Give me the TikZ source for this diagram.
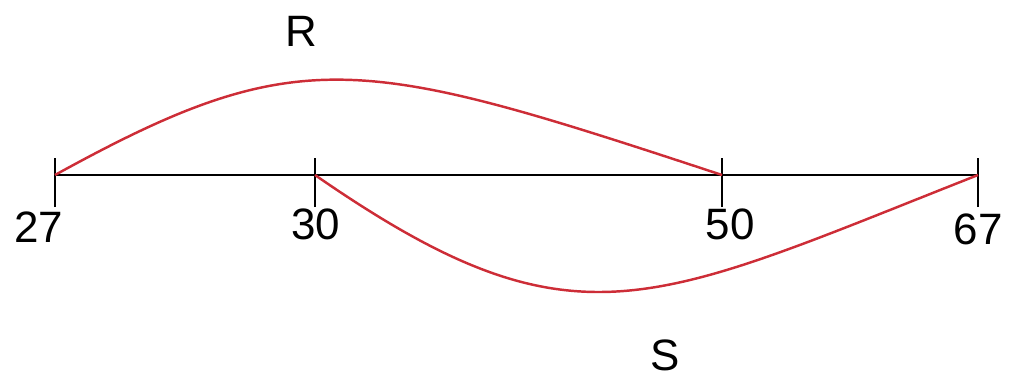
\documentclass[tikz,border=0pt]{standalone}
\usepackage{fontspec}
\setmainfont{Liberation Sans}
\usetikzlibrary{positioning}
\definecolor{arcred}{RGB}{205,45,55}
\tikzset{
  axis/.style  ={draw=black, line width=1.5pt},
  tick/.style  ={draw=black, line width=1.5pt},
  arcline/.style={draw=arcred, line width=1.4pt},
  num/.style   ={font=\fontsize{25}{29}\selectfont, inner sep=0pt},
  setlbl/.style={font=\fontsize{25}{29}\selectfont, inner sep=0pt},
}
\begin{document}
\begin{tikzpicture}[x=0.2mm, y=-0.2mm]
  \useasboundingbox (0,0) rectangle (1009,381);

  % ---- number line ----
  \coordinate (p27) at (55,175);
  \coordinate (p30) at (315,175);
  \coordinate (p50) at (722,175);
  \coordinate (p67) at (978,175);
  \draw[axis] (p27) -- (p67);
  \foreach \p in {p27,p30,p50,p67}
    \draw[tick] ([yshift=-32*0.2mm]\p) -- ([yshift=17*0.2mm]\p);

  % ---- end point labels ----
  \node[num] (lab27) at (39,227) {27};
  \node[num] (lab30) at (316,224) {30};
  \node[num] (lab50) at (730,224) {50};
  \node[num] (lab67) at (978,229) {67};

  % ---- the two spans ----
  \draw[arcline] (p27) .. controls +(245,-135) and +(-361,-119) .. (p50);
  \draw[arcline] (p30) .. controls +(260,180) and +(-330,130) .. (p67);
  \node[setlbl] (rlbl) at (301,31) {R};
  \node[setlbl] (slbl) at (665,355) {S};
\end{tikzpicture}
\end{document}
